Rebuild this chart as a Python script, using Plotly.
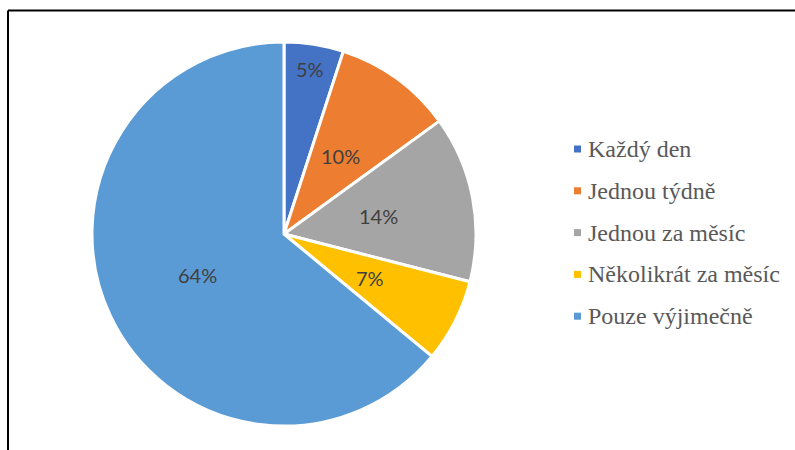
import math
import plotly.graph_objects as go

labels = ["Každý den", "Jednou týdně", "Jednou za měsíc", "Několikrát za měsíc", "Pouze výjimečně"]
values = [5, 10, 14, 7, 64]
colors = ["#4472C4", "#ED7D31", "#A5A5A5", "#FFC000", "#5B9BD5"]

W, H = 795, 450
# pie box in pixels
PX0, PX1, PY0, PY1 = 92, 476, 42, 426
cx, cy = (PX0 + PX1) / 2, (PY0 + PY1) / 2
R = (PX1 - PX0) / 2

fig = go.Figure(go.Pie(
    labels=labels,
    values=values,
    sort=False,
    direction="clockwise",
    rotation=0,
    marker=dict(colors=colors, line=dict(color="white", width=3)),
    textinfo="none",
    domain=dict(x=[PX0 / W, PX1 / W], y=[1 - PY1 / H, 1 - PY0 / H]),
    showlegend=False,
    hoverinfo="label+percent",
))

shapes = []
annotations = []

# percent labels, placed like Excel's data labels (half radius, pushed out for thin slices)
total = sum(values)
cum = 0
for v in values:
    frac = v / total
    mid = (cum + frac / 2) * 2 * math.pi
    cum += frac
    r = 0.87 * R if frac < 0.06 else 0.5 * R
    x = cx + r * math.sin(mid)
    y = cy - r * math.cos(mid)
    annotations.append(dict(text=f"{frac * 100:.0f}%", xref="paper", yref="paper",
                            x=x / W, y=1 - y / H, xanchor="center", yanchor="middle",
                            showarrow=False,
                            font=dict(family="Lato", size=20, color="#404040")))

# hand-made legend so the row spacing matches
y0 = 149
step = 41.8
for i, (lab, col) in enumerate(zip(labels, colors)):
    yc = y0 + i * step
    shapes.append(dict(type="rect", xref="paper", yref="paper",
                       x0=574 / W, x1=581 / W,
                       y0=1 - (yc + 3.5) / H, y1=1 - (yc - 3.5) / H,
                       fillcolor=col, line=dict(width=0)))
    annotations.append(dict(text=lab, xref="paper", yref="paper",
                            x=586 / W, y=1 - yc / H, xanchor="left", yanchor="middle",
                            showarrow=False,
                            font=dict(family="Liberation Serif, Times New Roman, serif",
                                      size=24, color="#595959")))

# chart frame (only top and left edges visible)
shapes.append(dict(type="line", xref="paper", yref="paper",
                   x0=8 / W, x1=1, y0=1 - 10.5 / H, y1=1 - 10.5 / H,
                   line=dict(color="black", width=2)))
shapes.append(dict(type="line", xref="paper", yref="paper",
                   x0=8 / W, x1=8 / W, y0=0, y1=1 - 10.5 / H,
                   line=dict(color="black", width=2)))

fig.update_layout(
    width=W, height=H,
    margin=dict(l=0, r=0, t=0, b=0),
    paper_bgcolor="white",
    plot_bgcolor="white",
    shapes=shapes,
    annotations=annotations,
)

fig.write_html("out.html", config={"displayModeBar": False},
               post_script="document.body.style.margin='0px';")
